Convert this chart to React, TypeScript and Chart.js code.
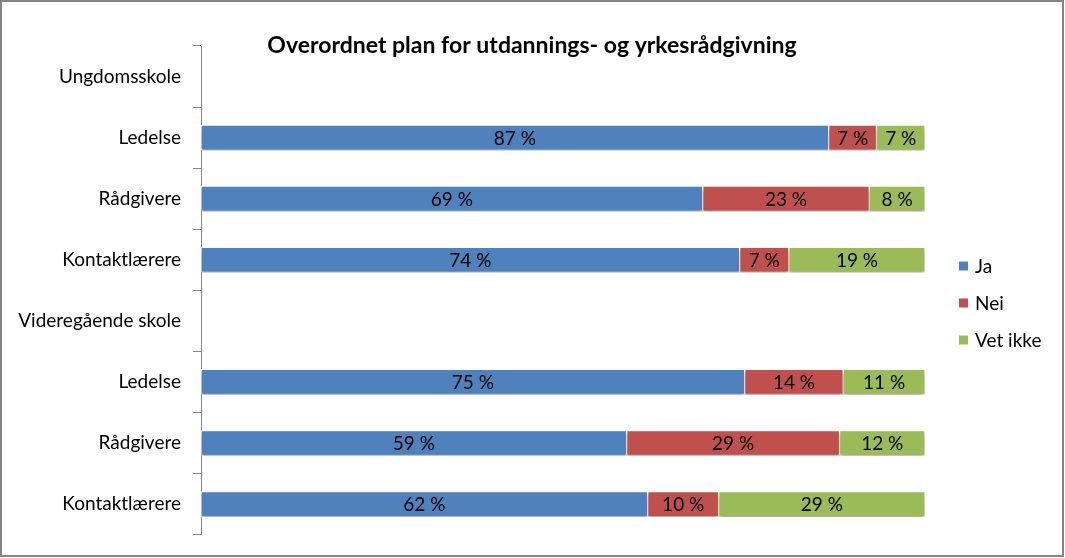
import React, { useEffect, useRef } from 'react';
import { Chart, registerables } from 'chart.js';

Chart.register(...registerables);

const chartTitle = 'Overordnet plan for utdannings- og yrkesrådgivning';
const categories = [
  'Ungdomsskole',
  'Ledelse',
  'Rådgivere',
  'Kontaktlærere',
  'Videregående skole',
  'Ledelse',
  'Rådgivere',
  'Kontaktlærere',
];
const seriesNames = ['Ja', 'Nei', 'Vet ikke'];
const jaValues = [null, 86.7, 69.3, 74.4, null, 75.1, 58.8, 61.7];
const neiValues = [null, 6.6, 23.0, 6.8, null, 13.6, 29.4, 9.8];
const vetIkkeValues = [null, 6.7, 7.7, 18.8, null, 11.3, 11.8, 28.5];
const seriesColors = ['#4F81BD', '#C0504D', '#9BBB59'];

const FONT = 'Lato, "Open Sans", sans-serif';

const decorPlugin = {
  id: 'decor',
  beforeDatasetsDraw(chart: any) {
    const ctx = chart.ctx;
    ctx.save();
    ctx.shadowColor = 'rgba(0,0,0,0.35)';
    ctx.shadowBlur = 4;
    ctx.shadowOffsetX = 0;
    ctx.shadowOffsetY = 3;
  },
  afterDatasetsDraw(chart: any) {
    const ctx = chart.ctx;
    ctx.restore();
    ctx.save();
    ctx.font = `19px ${FONT}`;
    ctx.fillStyle = '#000';
    ctx.textAlign = 'center';
    ctx.textBaseline = 'middle';
    chart.data.datasets.forEach((ds: any, di: number) => {
      const meta = chart.getDatasetMeta(di);
      meta.data.forEach((el: any, i: number) => {
        const v = ds.data[i];
        if (v === null || v === undefined) return;
        const { x, y, base } = el.getProps(['x', 'y', 'base'], true);
        ctx.fillText(`${Math.round(v)} %`, (x + base) / 2, y + 1);
      });
    });
    ctx.restore();
  },
  afterDraw(chart: any) {
    const ctx = chart.ctx;
    ctx.save();
    // title
    ctx.font = `bold 23px ${FONT}`;
    ctx.fillStyle = '#000';
    ctx.textAlign = 'center';
    ctx.textBaseline = 'middle';
    ctx.fillText(chartTitle, 532, 46);
    // legend
    ctx.font = `19px ${FONT}`;
    ctx.textAlign = 'left';
    chart.data.datasets.forEach((ds: any, i: number) => {
      const cy = 266 + i * 37;
      ctx.fillStyle = ds.backgroundColor;
      ctx.fillRect(959, cy - 4.5, 9, 9);
      ctx.fillStyle = '#000';
      ctx.fillText(ds.label, 975, cy + 1);
    });
    ctx.restore();
  },
};

export default function App() {
  const canvasRef = useRef<HTMLCanvasElement | null>(null);

  useEffect(() => {
    if (!canvasRef.current) return;
    const seriesValues = [jaValues, neiValues, vetIkkeValues];
    const chart = new Chart(canvasRef.current, {
      type: 'bar',
      data: {
        labels: categories,
        datasets: seriesNames.map((name, i) => ({
          label: name,
          data: seriesValues[i],
          backgroundColor: seriesColors[i],
          borderColor: '#FFFFFF',
          borderWidth: 1,
          borderSkipped: false,
          barThickness: 25,
        })),
      },
      options: {
        indexAxis: 'y',
        responsive: false,
        animation: false,
        maintainAspectRatio: false,
        layout: { padding: { top: 46, right: 140, bottom: 23, left: 0 } },
        plugins: {
          legend: { display: false },
          title: { display: false },
          tooltip: { enabled: false },
        },
        scales: {
          x: { stacked: true, min: 0, max: 100, display: false },
          y: {
            stacked: true,
            grid: {
              display: true,
              drawOnChartArea: false,
              drawTicks: true,
              tickLength: 8,
              color: '#868686',
              offset: true,
            },
            border: { display: true, color: '#868686', width: 1 },
            ticks: {
              color: '#000',
              padding: 12,
              font: { family: FONT, size: 19 },
            },
            afterFit(scale: any) {
              scale.width = 201;
            },
          },
        },
      },
      plugins: [decorPlugin],
    } as any);
    return () => chart.destroy();
  }, []);

  return (
    <div style={{ position: 'absolute', left: 0, top: 0, width: 1065, height: 558, background: '#fff' }}>
      <canvas ref={canvasRef} width={1065} height={558} style={{ display: 'block', width: 1065, height: 558 }} />
      <div
        style={{
          position: 'absolute',
          left: 0,
          top: 0,
          width: 1064,
          height: 557,
          boxSizing: 'border-box',
          border: '2px solid #868686',
          pointerEvents: 'none',
        }}
      />
    </div>
  );
}
